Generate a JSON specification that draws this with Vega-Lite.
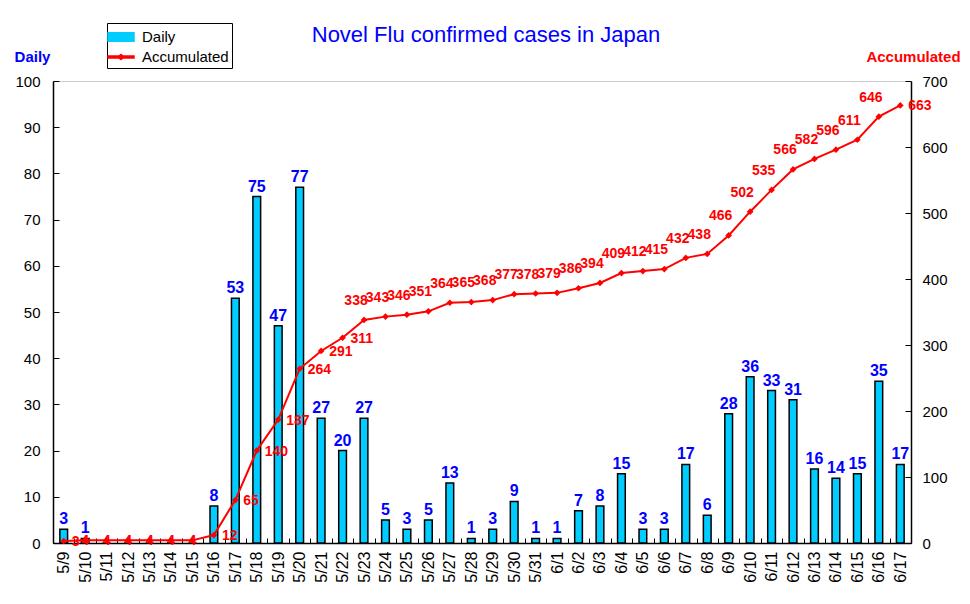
{
  "$schema": "https://vega.github.io/schema/vega-lite/v6.json",
  "width": 858,
  "height": 462,
  "autosize": {"type": "none"},
  "padding": {"left": 53, "top": 81, "right": 59, "bottom": 61},
  "background": "white",
  "title": {
    "text": "Novel Flu confirmed cases in Japan",
    "color": "#0000FF",
    "font": "Liberation Sans",
    "fontSize": 22,
    "fontWeight": "normal",
    "anchor": "middle",
    "dx": 4,
    "dy": 26,
    "offset": 2
  },
  "data": {
    "values": [
      {"date": "5/9", "daily": 3, "acc": 3},
      {"date": "5/10", "daily": 1, "acc": 4},
      {"date": "5/11", "daily": 0, "acc": 4},
      {"date": "5/12", "daily": 0, "acc": 4},
      {"date": "5/13", "daily": 0, "acc": 4},
      {"date": "5/14", "daily": 0, "acc": 4},
      {"date": "5/15", "daily": 0, "acc": 4},
      {"date": "5/16", "daily": 8, "acc": 12},
      {"date": "5/17", "daily": 53, "acc": 65},
      {"date": "5/18", "daily": 75, "acc": 140},
      {"date": "5/19", "daily": 47, "acc": 187},
      {"date": "5/20", "daily": 77, "acc": 264},
      {"date": "5/21", "daily": 27, "acc": 291},
      {"date": "5/22", "daily": 20, "acc": 311},
      {"date": "5/23", "daily": 27, "acc": 338},
      {"date": "5/24", "daily": 5, "acc": 343},
      {"date": "5/25", "daily": 3, "acc": 346},
      {"date": "5/26", "daily": 5, "acc": 351},
      {"date": "5/27", "daily": 13, "acc": 364},
      {"date": "5/28", "daily": 1, "acc": 365},
      {"date": "5/29", "daily": 3, "acc": 368},
      {"date": "5/30", "daily": 9, "acc": 377},
      {"date": "5/31", "daily": 1, "acc": 378},
      {"date": "6/1", "daily": 1, "acc": 379},
      {"date": "6/2", "daily": 7, "acc": 386},
      {"date": "6/3", "daily": 8, "acc": 394},
      {"date": "6/4", "daily": 15, "acc": 409},
      {"date": "6/5", "daily": 3, "acc": 412},
      {"date": "6/6", "daily": 3, "acc": 415},
      {"date": "6/7", "daily": 17, "acc": 432},
      {"date": "6/8", "daily": 6, "acc": 438},
      {"date": "6/9", "daily": 28, "acc": 466},
      {"date": "6/10", "daily": 36, "acc": 502},
      {"date": "6/11", "daily": 33, "acc": 535},
      {"date": "6/12", "daily": 31, "acc": 566},
      {"date": "6/13", "daily": 16, "acc": 582},
      {"date": "6/14", "daily": 14, "acc": 596},
      {"date": "6/15", "daily": 15, "acc": 611},
      {"date": "6/16", "daily": 35, "acc": 646},
      {"date": "6/17", "daily": 17, "acc": 663}
    ]
  },
  "encoding": {
    "x": {
      "field": "date",
      "type": "nominal",
      "sort": null,
      "scale": {"paddingInner": 0, "paddingOuter": 0},
      "axis": {
        "title": null,
        "labelAngle": -90,
        "labelAlign": "right",
        "labelBaseline": "middle",
        "labelFont": "Liberation Sans",
        "labelFontSize": 16,
        "labelColor": "black",
        "labelPadding": 13,
        "tickBand": "extent",
        "tickSize": -5,
        "tickColor": "black",
        "domainColor": "black",
        "domainWidth": 1.5
      }
    }
  },
  "layer": [
    {
      "layer": [
        {
          "mark": {"type": "bar", "stroke": "black", "strokeWidth": 1.5, "width": {"band": 0.36}},
          "encoding": {
            "y": {
              "field": "daily",
              "type": "quantitative",
              "scale": {"domain": [0, 100], "nice": false},
              "axis": {
                "title": "Daily",
                "titleAngle": 0,
                "titleAlign": "center",
                "titleBaseline": "middle",
                "titleX": -21,
                "titleY": -25,
                "titleColor": "#0000FF",
                "titleFont": "Liberation Sans",
                "titleFontSize": 15,
                "titleFontWeight": "bold",
                "values": [0, 10, 20, 30, 40, 50, 60, 70, 80, 90, 100],
                "grid": false,
                "tickSize": -6,
                "tickColor": "black",
                "domainColor": "black",
                "domainWidth": 1.5,
                "labelFont": "Liberation Sans",
                "labelFontSize": 15,
                "labelColor": "black",
                "labelPadding": 19
              }
            },
            "color": {
              "datum": "Daily",
              "type": "nominal",
              "scale": {"domain": ["Daily", "Accumulated"], "range": ["#00CCFF", "#FF0000"]},
              "legend": {
                "orient": "none",
                "legendX": 54,
                "legendY": -58,
                "title": null,
                "strokeColor": "black",
                "fillColor": "white",
                "padding": 3,
                "rowPadding": 1,
                "labelFont": "Liberation Sans",
                "labelFontSize": 15,
                "labelColor": "black",
                "labelOffset": 10,
                "symbolSize": 400,
                "symbolType": {"expr": "datum.value === 'Daily' ? 'M-1.3,-0.42H1.3V0.42H-1.3Z' : 'M-1.3,-0.1H1.3V0.1H-1.3Z M-0.3,0L0,-0.25L0.3,0L0,0.25Z'"},
                "symbolStrokeColor": {"expr": "datum.value === 'Daily' ? 'black' : '#FF0000'"},
                "symbolStrokeWidth": 1.5
              }
            }
          }
        },
        {
          "transform": [{"filter": "datum.daily > 0"}],
          "mark": {"type": "text", "dy": -10, "font": "Liberation Sans", "fontSize": 16, "fontWeight": "bold", "color": "#0000FF"},
          "encoding": {
            "y": {"field": "daily", "type": "quantitative"},
            "text": {"field": "daily", "type": "quantitative"}
          }
        }
      ]
    },
    {
      "layer": [
        {
          "mark": {"type": "line", "strokeWidth": 2, "point": {"shape": "diamond", "size": 45, "filled": true, "color": "#FF0000"}},
          "encoding": {
            "y": {
              "field": "acc",
              "type": "quantitative",
              "scale": {"domain": [0, 700], "nice": false},
              "axis": {
                "orient": "right",
                "title": "Accumulated",
                "titleAngle": 0,
                "titleAlign": "center",
                "titleBaseline": "middle",
                "titleX": 2,
                "titleY": -25,
                "titleColor": "#FF0000",
                "titleFont": "Liberation Sans",
                "titleFontSize": 15,
                "titleFontWeight": "bold",
                "values": [0, 100, 200, 300, 400, 500, 600, 700],
                "grid": false,
                "tickSize": -6,
                "tickColor": "black",
                "domainColor": "black",
                "domainWidth": 1.5,
                "labelFont": "Liberation Sans",
                "labelFontSize": 15,
                "labelColor": "black",
                "labelPadding": 17
              }
            },
            "color": {"datum": "Accumulated", "type": "nominal"}
          }
        },
        {
          "transform": [{"filter": "indexof(['5/9','5/16','5/17','5/18','5/19','5/20','5/21','5/22','6/17'], datum.date) >= 0"}],
          "mark": {"type": "text", "align": "left", "dx": 8, "dy": 1, "font": "Liberation Sans", "fontSize": 14, "fontWeight": "bold", "color": "#FF0000"},
          "encoding": {
            "y": {"field": "acc", "type": "quantitative"},
            "text": {"field": "acc", "type": "quantitative"}
          }
        },
        {
          "transform": [{"filter": "indexof(['5/10','5/11','5/12','5/13','5/14','5/15'], datum.date) >= 0"}],
          "mark": {"type": "text", "align": "center", "dx": 0, "dy": 1, "font": "Liberation Sans", "fontSize": 14, "fontWeight": "bold", "color": "#FF0000"},
          "encoding": {
            "y": {"field": "acc", "type": "quantitative"},
            "text": {"field": "acc", "type": "quantitative"}
          }
        },
        {
          "transform": [{"filter": "indexof(['5/9','5/10','5/11','5/12','5/13','5/14','5/15','5/16','5/17','5/18','5/19','5/20','5/21','5/22','6/17'], datum.date) < 0"}],
          "mark": {"type": "text", "align": "center", "dx": -8, "dy": -19, "font": "Liberation Sans", "fontSize": 14, "fontWeight": "bold", "color": "#FF0000"},
          "encoding": {
            "y": {"field": "acc", "type": "quantitative"},
            "text": {"field": "acc", "type": "quantitative"}
          }
        }
      ]
    }
  ],
  "resolve": {"scale": {"y": "independent"}},
  "config": {
    "view": {"stroke": "#999999", "strokeDash": [1, 1]}
  }
}
